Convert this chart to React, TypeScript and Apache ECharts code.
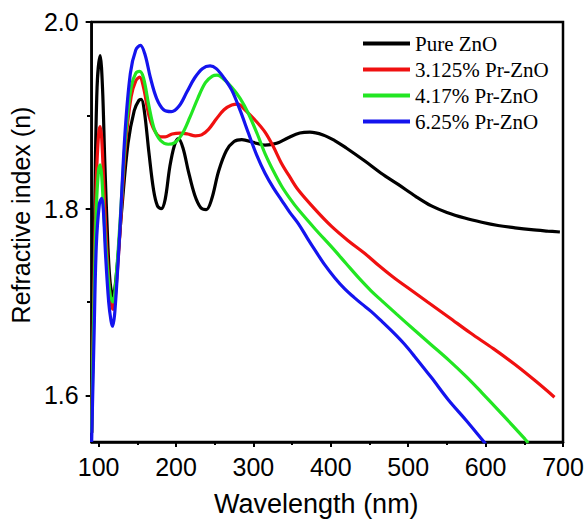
import React, { useEffect, useRef } from "react";
import * as echarts from "echarts";

const seriesNames = ["Pure ZnO", "3.125% Pr-ZnO", "4.17% Pr-ZnO", "6.25% Pr-ZnO"];
const seriesColors = ["#000000", "#f01010", "#22e622", "#1414ee"];

const xMajorTicks = [100, 200, 300, 400, 500, 600, 700];
const xMinorTicks = [150, 250, 350, 450, 550, 650];
const yMajorTicks = [1.6, 1.8, 2.0];
const yMinorTicks = [1.7, 1.9];

const pureZnO = [
  [91, 1.56], [95, 1.8], [98, 1.93], [102, 1.964], [105, 1.93], [108, 1.85], [112, 1.76], [115, 1.72],
  [118.5, 1.706], [123, 1.73], [130, 1.8], [138, 1.87], [146, 1.905], [152, 1.916], [155, 1.917],
  [159, 1.905], [165, 1.86], [171, 1.82], [176, 1.803], [181, 1.8], [186, 1.81], [192, 1.845],
  [198, 1.868], [203, 1.875], [209, 1.865], [216, 1.84], [224, 1.815], [232, 1.801], [239, 1.799],
  [246, 1.81], [255, 1.84], [265, 1.862], [275, 1.872], [285, 1.874], [300, 1.871], [315, 1.868],
  [330, 1.87], [345, 1.876], [360, 1.881], [373, 1.882], [390, 1.879], [405, 1.873], [420, 1.865],
  [444, 1.851], [465, 1.838], [487, 1.826], [510, 1.813], [530, 1.803], [550, 1.796], [573, 1.79],
  [595, 1.7855], [616, 1.782], [638, 1.7795], [659, 1.7775], [680, 1.776], [696, 1.775],
];

const pr3125 = [
  [91, 1.56], [94, 1.72], [97, 1.83], [100, 1.88], [102, 1.888], [104, 1.875], [107, 1.82], [111, 1.75],
  [115, 1.705], [118.5, 1.692], [122, 1.71], [128, 1.78], [135, 1.87], [142, 1.92], [148, 1.937],
  [153, 1.941], [158, 1.93], [165, 1.9], [172, 1.884], [180, 1.877], [186, 1.877], [195, 1.88],
  [205, 1.881], [215, 1.88], [225, 1.878], [233, 1.879], [242, 1.885], [252, 1.896], [262, 1.906],
  [272, 1.911], [280, 1.912], [290, 1.905], [302, 1.895], [315, 1.882], [326, 1.866], [336, 1.849],
  [347, 1.834], [358, 1.82], [380, 1.799], [401, 1.781], [422, 1.766], [444, 1.752], [462, 1.739],
  [480, 1.727], [500, 1.715], [525, 1.7], [552, 1.684], [580, 1.667], [610, 1.65], [638, 1.633],
  [665, 1.615], [689, 1.598],
];

const pr417 = [
  [91, 1.56], [94, 1.7], [97, 1.8], [100, 1.842], [102, 1.847], [104, 1.835], [107, 1.79], [111, 1.74],
  [115, 1.707], [118.5, 1.7], [122, 1.72], [128, 1.79], [135, 1.88], [142, 1.93], [148, 1.945],
  [153, 1.947], [158, 1.94], [165, 1.91], [172, 1.885], [180, 1.873], [190, 1.869], [199, 1.871],
  [208, 1.88], [218, 1.898], [228, 1.918], [238, 1.935], [247, 1.942], [253, 1.943], [260, 1.94],
  [272, 1.93], [283, 1.918], [293.5, 1.902], [305, 1.88], [315, 1.859], [326, 1.84], [336.5, 1.824],
  [347, 1.811], [358, 1.799], [380, 1.778], [401, 1.759], [420, 1.741], [437, 1.725], [452, 1.712],
  [465, 1.702], [485, 1.687], [508, 1.67], [530, 1.654], [552, 1.638], [575, 1.62], [595, 1.603],
  [620, 1.581], [651, 1.553], [655, 1.549],
];

const pr625 = [
  [91, 1.55], [94, 1.66], [97, 1.76], [101, 1.805], [104, 1.811], [106, 1.8], [109, 1.75], [113, 1.7],
  [116, 1.68], [118, 1.674], [121, 1.69], [127, 1.77], [134, 1.88], [141, 1.945], [148, 1.97],
  [154, 1.975], [160, 1.965], [167, 1.94], [175, 1.918], [184, 1.906], [194, 1.904], [204, 1.91],
  [214, 1.925], [224, 1.94], [234, 1.95], [244, 1.953], [252, 1.95], [262, 1.94], [272, 1.927],
  [283, 1.905], [293.5, 1.881], [304, 1.858], [315, 1.838], [326, 1.822], [336.5, 1.809], [347, 1.796],
  [358, 1.784], [370, 1.768], [380, 1.755], [392, 1.74], [405, 1.726], [418, 1.714], [430, 1.705],
  [440, 1.698], [452, 1.69], [465, 1.68], [480, 1.668], [495, 1.655], [508, 1.642], [530, 1.619],
  [552, 1.595], [575, 1.573], [597, 1.551], [600, 1.548],
];

const seriesData = [pureZnO, pr3125, pr417, pr625];

export default function App() {
  const ref = useRef<HTMLDivElement>(null);
  useEffect(() => {
    if (!ref.current) return;
    const chart = echarts.init(ref.current, null, { renderer: "svg" });
    const sans = "Liberation Sans, Arial, sans-serif";
    const serif = "Liberation Serif, Times New Roman, serif";
    chart.setOption({
      animation: false,
      backgroundColor: "#ffffff",
      grid: {
        left: 90,
        right: 25,
        top: 22,
        bottom: 84,
        show: true,
        borderColor: "#000",
        borderWidth: 2.5,
        containLabel: false,
      },
      legend: {
        orient: "vertical",
        left: 363,
        top: 33,
        padding: 0,
        itemWidth: 47,
        itemHeight: 4,
        itemGap: 5,
        icon: "rect",
        data: seriesNames,
        textStyle: { fontFamily: serif, fontSize: 21, color: "#000", lineHeight: 20 },
      },
      xAxis: [
        {
          type: "value",
          min: 91,
          max: 700,
          name: "Wavelength (nm)",
          nameLocation: "middle",
          nameGap: 48,
          nameTextStyle: { fontFamily: sans, fontSize: 27, color: "#000", padding: [0, 22, 0, 0] },
          axisLine: { show: true, lineStyle: { color: "#000", width: 2.5 } },
          axisTick: { show: true, length: 5, lineStyle: { color: "#000", width: 2 }, customValues: xMajorTicks },
          axisLabel: { fontFamily: sans, fontSize: 25, color: "#000", margin: 12, customValues: xMajorTicks },
          splitLine: { show: false },
        },
        {
          type: "value",
          min: 91,
          max: 700,
          position: "top",
          offset: -420,
          axisLine: { show: false },
          axisTick: { show: true, inside: true, length: 3, lineStyle: { color: "#000", width: 2 }, customValues: xMinorTicks },
          axisLabel: { show: false },
          splitLine: { show: false },
        },
      ],
      yAxis: [
        {
          type: "value",
          min: 1.55,
          max: 2.0,
          name: "Refractive index (n)",
          nameLocation: "middle",
          nameGap: 46,
          nameTextStyle: { fontFamily: sans, fontSize: 25, color: "#000", padding: [0, 0, 0, 34] },
          axisLine: { show: true, lineStyle: { color: "#000", width: 2.5 } },
          axisTick: { show: true, length: 6, lineStyle: { color: "#000", width: 2 }, customValues: yMajorTicks },
          axisLabel: {
            fontFamily: sans,
            fontSize: 25,
            color: "#000",
            margin: 13,
            customValues: yMajorTicks,
            formatter: (v: number) => v.toFixed(1),
          },
          splitLine: { show: false },
        },
        {
          type: "value",
          min: 1.55,
          max: 2.0,
          position: "right",
          offset: -473,
          axisLine: { show: false },
          axisTick: { show: true, inside: true, length: 3, lineStyle: { color: "#000", width: 2 }, customValues: yMinorTicks },
          axisLabel: { show: false },
          splitLine: { show: false },
        },
      ],
      series: seriesNames.map((name, i) => ({
        name,
        type: "line",
        xAxisIndex: 0,
        yAxisIndex: 0,
        data: seriesData[i],
        smooth: 0.35,
        showSymbol: false,
        symbol: "none",
        clip: true,
        color: seriesColors[i],
        lineStyle: { color: seriesColors[i], width: 3.2 },
      })),
    });
    return () => chart.dispose();
  }, []);
  return (
    <div
      ref={ref}
      style={{ position: "fixed", left: 0, top: 0, width: 588, height: 526, background: "#fff" }}
    />
  );
}
